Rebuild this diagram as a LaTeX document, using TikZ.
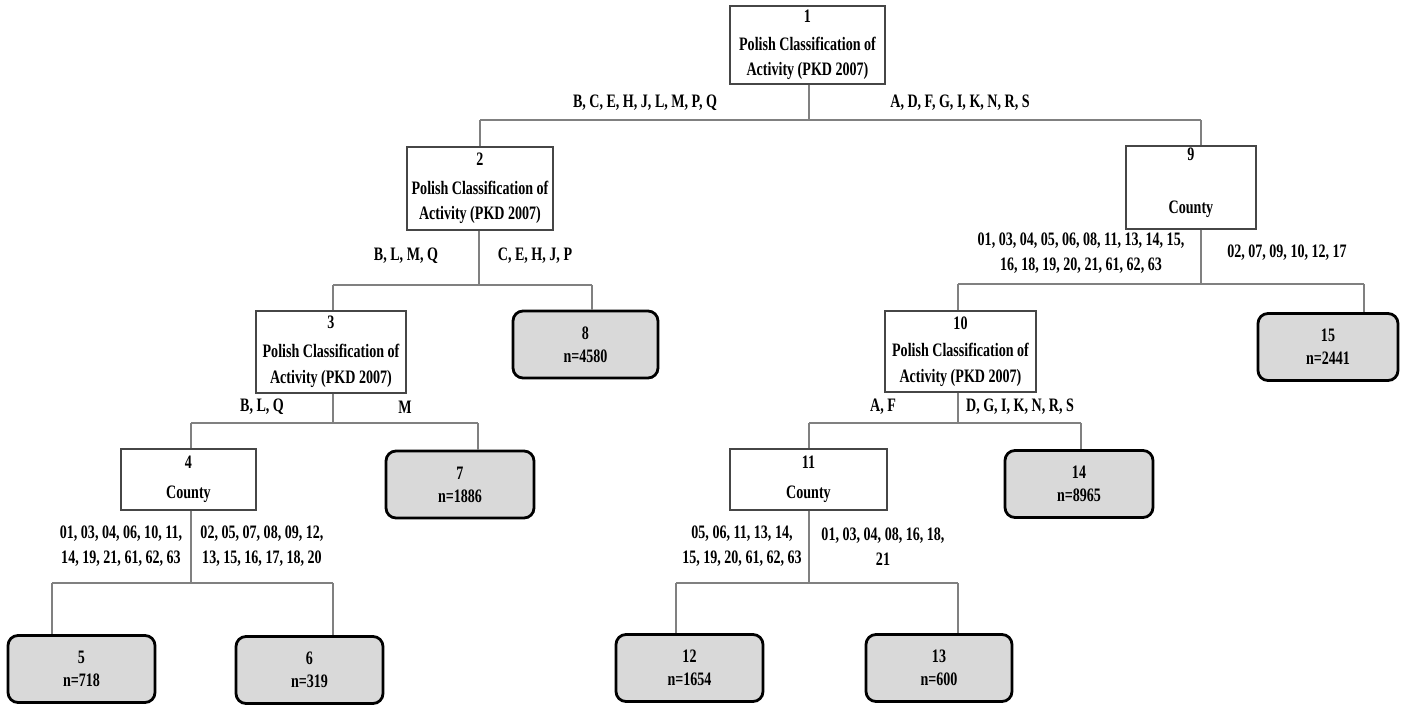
\documentclass[tikz,border=0pt]{standalone}
\usepackage{fontspec}
\setmainfont{Liberation Serif}[FakeStretch=0.74]
\definecolor{conncol}{RGB}{128,128,128}
\definecolor{boxcol}{RGB}{70,70,70}
\definecolor{leaffill}{RGB}{217,217,217}
\begin{document}
\begin{tikzpicture}[x=1pt,y=-1pt,
  every node/.style={font=\fontsize{19}{23}\selectfont\bfseries, inner sep=0pt, align=center},
  splitbox/.style={draw=boxcol, line width=1.4pt, fill=white},
  leafbox/.style={draw=black, line width=2.8pt, fill=leaffill, rounded corners=10pt, minimum height=67pt},
  conn/.style={draw=conncol, line width=1.4pt}]
\useasboundingbox (0,0) rectangle (1401,705);

% internal nodes
\node[splitbox, minimum width=155pt, minimum height=78pt] (n1) at (807.5,45) {1\\[5pt]Polish Classification of\\[2pt]Activity (PKD 2007)};
\node[splitbox, minimum width=146pt, minimum height=83pt] (n2) at (480,188.5) {2\\[6pt]Polish Classification of\\[2.5pt]Activity (PKD 2007)};
\node[splitbox, minimum width=150pt, minimum height=82pt] (n3) at (331,352) {3\\[6pt]Polish Classification of\\[2.5pt]Activity (PKD 2007)};
\node[splitbox, minimum width=135pt, minimum height=61pt] (n4) at (188.5,479.5) {4\\[7pt]County};
\node[splitbox, minimum width=130pt, minimum height=83pt] (n9) at (1191,187.5) {9\\[30pt]County\\[-10pt]\mbox{}};
\node[splitbox, minimum width=151pt, minimum height=81pt] (n10) at (960.5,351.5) {10\\[4pt]Polish Classification of\\[2.5pt]Activity (PKD 2007)};
\node[splitbox, minimum width=157pt, minimum height=61pt] (n11) at (808.5,479.5) {11\\[7pt]County};

% leaves
\node[leafbox, minimum width=147pt] (n5) at (81.5,669) {5\\n=718};
\node[leafbox, minimum width=147pt] (n6) at (309.5,670) {6\\n=319};
\node[leafbox, minimum width=148pt] (n7) at (460,484.5) {7\\n=1886};
\node[leafbox, minimum width=145pt] (n8) at (585.5,344.5) {8\\n=4580};
\node[leafbox, minimum width=147pt] (n12) at (689.5,668) {12\\n=1654};
\node[leafbox, minimum width=146pt] (n13) at (939,668) {13\\n=600};
\node[leafbox, minimum width=148pt] (n14) at (1079,484) {14\\n=8965};
\node[leafbox, minimum width=140pt] (n15) at (1328,347) {15\\n=2441};

% split 1
\coordinate (s1) at (809,120); \coordinate (s1l) at (480,120); \coordinate (s1r) at (1201,120);
\draw[conn] (n1.south -| s1) -- (s1);
\draw[conn] (s1l) -- (s1r);
\draw[conn] (s1l) -- (s1l |- n2.north);
\draw[conn] (s1r) -- (s1r |- n9.north);
% split 2
\coordinate (s2) at (479,285); \coordinate (s2l) at (333,285); \coordinate (s2r) at (592,285);
\draw[conn] (n2.south -| s2) -- (s2);
\draw[conn] (s2l) -- (s2r);
\draw[conn] (s2l) -- (s2l |- n3.north);
\draw[conn] (s2r) -- (s2r |- n8.north);
% split 3
\coordinate (s3) at (333,423); \coordinate (s3l) at (191,423); \coordinate (s3r) at (478,423);
\draw[conn] (n3.south -| s3) -- (s3);
\draw[conn] (s3l) -- (s3r);
\draw[conn] (s3l) -- (s3l |- n4.north);
\draw[conn] (s3r) -- (s3r |- n7.north);
% split 4
\coordinate (s4) at (191,583); \coordinate (s4l) at (52,583); \coordinate (s4r) at (333,583);
\draw[conn] (n4.south -| s4) -- (s4);
\draw[conn] (s4l) -- (s4r);
\draw[conn] (s4l) -- (s4l |- n5.north);
\draw[conn] (s4r) -- (s4r |- n6.north);
% split 9
\coordinate (s9) at (1201,284); \coordinate (s9l) at (958,284); \coordinate (s9r) at (1364,284);
\draw[conn] (n9.south -| s9) -- (s9);
\draw[conn] (s9l) -- (s9r);
\draw[conn] (s9l) -- (s9l |- n10.north);
\draw[conn] (s9r) -- (s9r |- n15.north);
% split 10
\coordinate (s10) at (958,423); \coordinate (s10l) at (809,423); \coordinate (s10r) at (1081,423);
\draw[conn] (n10.south -| s10) -- (s10);
\draw[conn] (s10l) -- (s10r);
\draw[conn] (s10l) -- (s10l |- n11.north);
\draw[conn] (s10r) -- (s10r |- n14.north);
% split 11
\coordinate (s11) at (809,583); \coordinate (s11l) at (676,583); \coordinate (s11r) at (958,583);
\draw[conn] (n11.south -| s11) -- (s11);
\draw[conn] (s11l) -- (s11r);
\draw[conn] (s11l) -- (s11l |- n12.north);
\draw[conn] (s11r) -- (s11r |- n13.north);

% labels
\node (l1a) at (645,103) {B, C, E, H, J, L, M, P, Q};
\node (l1b) at (960,103) {A, D, F, G, I, K, N, R, S};
\node (l2a) at (406,256) {B, L, M, Q};
\node (l2b) at (535,256) {C, E, H, J, P};
\node (l3a) at (262,407) {B, L, Q};
\node (l3b) at (405,407) {M};
\node (l4a) at (121,546.5) {01, 03, 04, 06, 10, 11,\\[2pt]14, 19, 21, 61, 62, 63};
\node (l4b) at (262,546.5) {02, 05, 07, 08, 09, 12,\\[2pt]13, 15, 16, 17, 18, 20};
\node (l9a) at (1081,253.5) {01, 03, 04, 05, 06, 08, 11, 13, 14, 15,\\[2pt]16, 18, 19, 20, 21, 61, 62, 63};
\node (l9b) at (1287,253) {02, 07, 09, 10, 12, 17};
\node (l10a) at (883,407) {A, F};
\node (l10b) at (1020,407) {D, G, I, K, N, R, S};
\node (l11a) at (742,546.5) {05, 06, 11, 13, 14,\\[2pt]15, 19, 20, 61, 62, 63};
\node (l11b) at (883,546.5) {01, 03, 04, 08, 16, 18,\\[2pt]21};
\end{tikzpicture}
\end{document}
